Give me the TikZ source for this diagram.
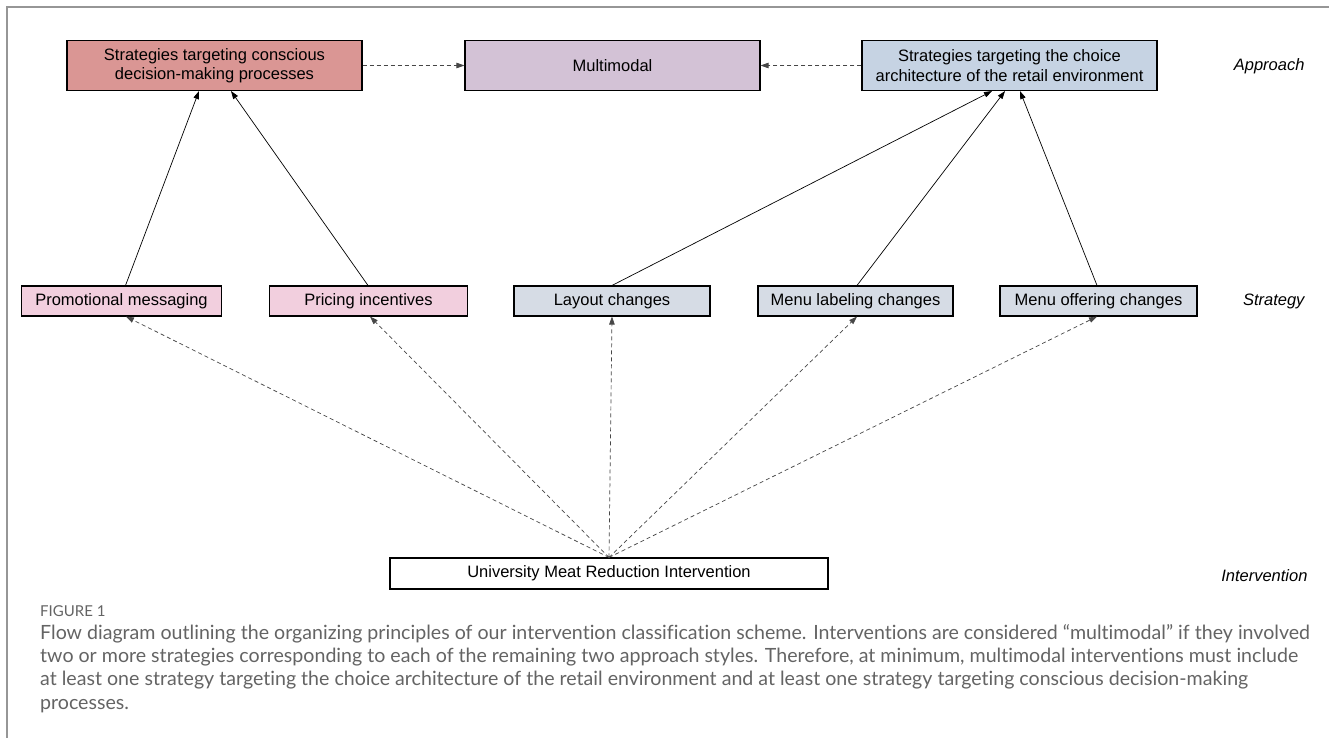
\documentclass[tikz,border=0pt]{standalone}
\usepackage{fontspec}
\setmainfont{Liberation Sans}
\newfontfamily\capfont[Ligatures=NoCommon]{Lato}
\usetikzlibrary{arrows.meta}
\definecolor{consc}{RGB}{218,150,148}
\definecolor{multi}{RGB}{211,194,214}
\definecolor{choice}{RGB}{198,211,227}
\definecolor{pinkbox}{RGB}{242,207,222}
\definecolor{bluebox}{RGB}{214,220,229}
\definecolor{framegray}{RGB}{150,150,150}
\definecolor{capgray}{RGB}{100,100,100}
\definecolor{dashgray}{RGB}{70,70,70}
\tikzset{
  boxnode/.style={draw=black, line width=1.1pt, inner sep=0pt, align=center,
    font=\fontsize{16.5}{19.5}\selectfont},
  bigbox/.style={boxnode, minimum width=295pt, minimum height=50pt},
  stratbox/.style={boxnode, minimum height=30pt},
  levellabel/.style={font=\fontsize{16.5}{20}\selectfont\itshape, anchor=east},
  solidarrow/.style={line width=0.7pt, black, -{Triangle[length=8pt,width=5.5pt]}},
  dasharrow/.style={line width=0.7pt, dashgray, dash pattern=on 4pt off 3pt,
    -{Triangle[length=8pt,width=5.5pt]}},
}
\begin{document}
\begin{tikzpicture}[x=1pt,y=-1pt]
\useasboundingbox (0,0) rectangle (1329,738);
\fill[white] (0,0) rectangle (1329,738);
\draw[framegray, line width=1.5pt] (7,738) -- (7,7) -- (1329,7);

% Approach level
\node[bigbox, fill=consc] (consc) at (214.5,65.5) {Strategies targeting conscious\\decision-making processes};
\node[bigbox, fill=multi] (multi) at (612.5,65.5) {Multimodal};
\node[bigbox, fill=choice] (choice) at (1009.5,65.5) {Strategies targeting the choice\\architecture of the retail environment};
\node[levellabel] (lapp) at (1308,66) {Approach};

% Strategy level
\node[stratbox, fill=pinkbox, minimum width=200pt] (promo) at (121.5,301) {Promotional messaging};
\node[stratbox, fill=pinkbox, minimum width=198pt] (price) at (368.5,301) {Pricing incentives};
\node[stratbox, fill=bluebox, minimum width=196pt] (layout) at (612,301) {Layout changes};
\node[stratbox, fill=bluebox, minimum width=195pt] (label) at (855.5,301) {Menu labeling changes};
\node[stratbox, fill=bluebox, minimum width=197pt] (offer) at (1098.5,301) {Menu offering changes};
\node[levellabel] (lstr) at (1308,301) {Strategy};

% Intervention level
\node[boxnode, fill=white, minimum width=438pt, minimum height=31pt] (interv) at (609,573.5) {University Meat Reduction Intervention};
\node[levellabel] (lint) at (1311,576) {Intervention};

% Dashed horizontal arrows
\draw[dasharrow] (consc.east) -- (multi.west);
\draw[dasharrow] (choice.west) -- (multi.east);

% Solid arrows strategy -> approach
\draw[solidarrow] ([xshift=4pt]promo.north) -- ([xshift=-15.5pt]consc.south);
\draw[solidarrow] ([xshift=-0.5pt]price.north) -- ([xshift=16.5pt]consc.south);
\draw[solidarrow] (layout.north) -- ([xshift=-17.5pt]choice.south);
\draw[solidarrow] ([xshift=1.5pt]label.north) -- ([xshift=-4.5pt]choice.south);
\draw[solidarrow] ([xshift=-1.5pt]offer.north) -- ([xshift=10.5pt]choice.south);

% Dashed arrows intervention -> strategies
\coordinate (src) at (interv.north);
\draw[dasharrow] (src) -- ([xshift=4.5pt]promo.south);
\draw[dasharrow] (src) -- ([xshift=1.5pt]price.south);
\draw[dasharrow] (src) -- (layout.south);
\draw[dasharrow] (src) -- ([xshift=1.5pt]label.south);
\draw[dasharrow] (src) -- ([xshift=-1.5pt]offer.south);

% Caption
\node[anchor=west, inner sep=0pt, text=capgray, font=\capfont\fontsize{15}{18}\selectfont] (fig) at (40,611) {FIGURE 1};
\node[anchor=north west, inner sep=0pt, align=left, text=capgray,
  font=\capfont\fontsize{19.6}{23.3}\selectfont] (cap) at (40,624) {Flow diagram outlining the organizing principles of our intervention classification scheme. Interventions are considered “multimodal” if they involved\\two or more strategies corresponding to each of the remaining two approach styles. Therefore, at minimum, multimodal interventions must include\\at least one strategy targeting the choice architecture of the retail environment and at least one strategy targeting conscious decision-making\\processes.};
\end{tikzpicture}
\end{document}
